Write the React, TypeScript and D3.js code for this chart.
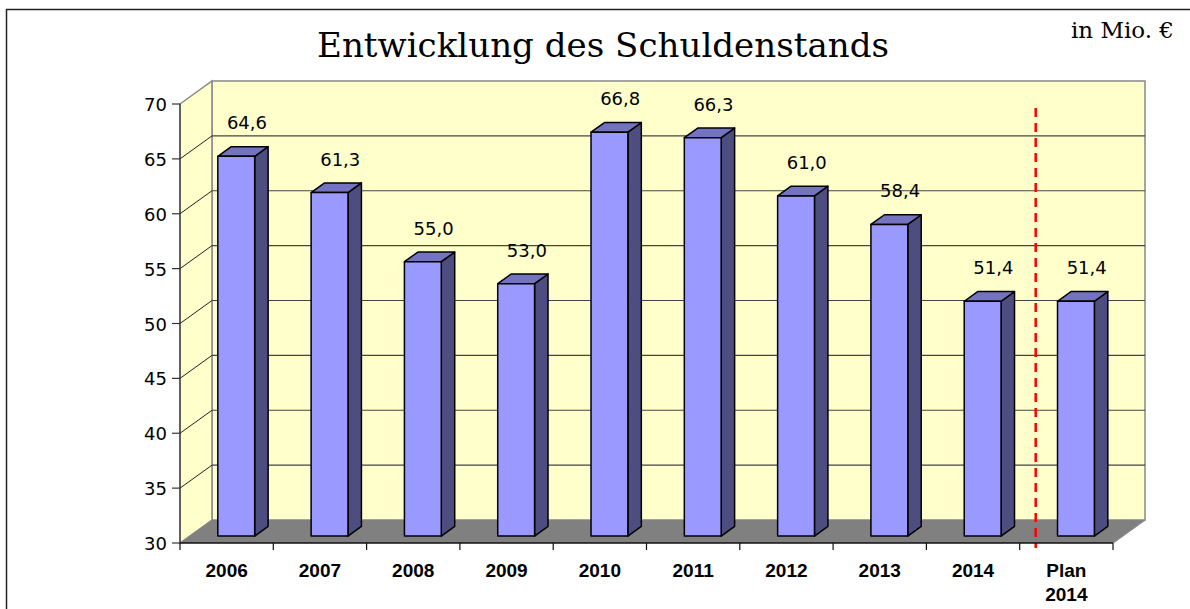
import React from 'react';
import * as d3 from 'd3';

// chart data
const categories = ['2006', '2007', '2008', '2009', '2010', '2011', '2012', '2013', '2014', 'Plan 2014'];
const categoryLines = [['2006'], ['2007'], ['2008'], ['2009'], ['2010'], ['2011'], ['2012'], ['2013'], ['2014'], ['Plan', '2014']];
const values = [64.6, 61.3, 55.0, 53.0, 66.8, 66.3, 61.0, 58.4, 51.4, 51.4];
const yTicks = [30, 35, 40, 45, 50, 55, 60, 65, 70];
const title = 'Entwicklung des Schuldenstands';
const unit = 'in Mio. €';

const W = 1190;
const H = 609;

// 3d depth of the plot box
const DX = 32;
const DY = -23;
const barT0 = 0.3;
const barT1 = 0.72;
const barFrac = 0.395;

const fmt = (v: number) => v.toFixed(1).replace('.', ',');

export default function App() {
  const x = d3.scaleBand<string>().domain(categories).range([180, 1113]).padding(0);
  const y = d3.scaleLinear().domain([30, 70]).range([543, 104]);
  const step = x.step();
  const bw = step * barFrac;
  const [x0, x1] = x.range();
  const [yMin, yMax] = y.domain();

  const pts = (p: number[][]) => p.map((d) => d.join(',')).join(' ');

  // back wall, side wall, floor
  const backWall = pts([
    [x0 + DX, y(yMax) + DY],
    [x1 + DX, y(yMax) + DY],
    [x1 + DX, y(yMin) + DY],
    [x0 + DX, y(yMin) + DY],
  ]);
  const sideWall = pts([
    [x0, y(yMax)],
    [x0 + DX, y(yMax) + DY],
    [x0 + DX, y(yMin) + DY],
    [x0, y(yMin)],
  ]);
  const floor = pts([
    [x0, y(yMin)],
    [x0 + DX, y(yMin) + DY],
    [x1 + DX, y(yMin) + DY],
    [x1, y(yMin)],
  ]);

  const ddx = DX * (barT1 - barT0);
  const ddy = DY * (barT1 - barT0);

  const planX = (x('Plan 2014') as number) + DX * 0.5;

  return (
    <svg width={W} height={H} style={{ position: 'absolute', left: 0, top: 0, background: '#fff' }}>
      {/* outer frame */}
      <rect x={6.5} y={9.5} width={1300} height={700} fill="none" stroke="#222" strokeWidth={1.5} />

      <text
        x={603}
        y={57}
        textAnchor="middle"
        fontFamily="DejaVu Serif"
        fontSize={33}
        textLength={572}
        lengthAdjust="spacingAndGlyphs"
        fill="#000"
      >
        {title}
      </text>
      <text x={1174} y={38} textAnchor="end" fontFamily="DejaVu Serif" fontSize={23} fill="#000">
        {unit}
      </text>

      {/* walls */}
      <polygon points={backWall} fill="#FFFFCC" stroke="#888" strokeWidth={1.5} />
      <polygon points={sideWall} fill="#FFFFCC" stroke="#888" strokeWidth={1.5} />

      {/* gridlines */}
      {yTicks
        .filter((t) => t > yMin && t < yMax)
        .map((t) => (
          <g key={'g' + t}>
            <line x1={x0} y1={y(t)} x2={x0 + DX} y2={y(t) + DY} stroke="#222" strokeWidth={1} />
            <line x1={x0 + DX} y1={y(t) + DY} x2={x1 + DX} y2={y(t) + DY} stroke="#444" strokeWidth={1.2} />
          </g>
        ))}

      <polygon points={floor} fill="#808080" />
      <line x1={x1} y1={y(yMin)} x2={x1 + DX} y2={y(yMin) + DY} stroke="#888" strokeWidth={1.5} />

      {/* bars */}
      {categories.map((c, i) => {
        const v = values[i];
        const fl = (x(c) as number) + (step - bw) / 2 + DX * barT0;
        const fr = fl + bw;
        const fb = y(yMin) + DY * barT0;
        const ft = y(v) + DY * barT0;
        return (
          <g key={c} stroke="#000" strokeWidth={1.5} strokeLinejoin="round">
            <polygon points={pts([[fr, ft], [fr + ddx, ft + ddy], [fr + ddx, fb + ddy], [fr, fb]])} fill="#4D4D80" />
            <polygon points={pts([[fl, ft], [fl + ddx, ft + ddy], [fr + ddx, ft + ddy], [fr, ft]])} fill="#7373BF" />
            <rect x={fl} y={ft} width={bw} height={fb - ft} fill="#9999FF" />
            <text
              x={(fl + fr) / 2 + ddx / 2 + 4}
              y={ft - 27}
              textAnchor="middle"
              fontFamily="DejaVu Sans"
              fontSize={18}
              stroke="none"
              fill="#000"
            >
              {fmt(v)}
            </text>
          </g>
        );
      })}

      {/* plan separator */}
      <line
        x1={planX}
        y1={y(yMax) + 4}
        x2={planX}
        y2={y(yMin) + 5}
        stroke="#FF0000"
        strokeWidth={2.5}
        strokeDasharray="9 6"
      />

      {/* y axis */}
      <line x1={x0} y1={y(yMax)} x2={x0} y2={y(yMin)} stroke="#333" strokeWidth={1.2} />
      {yTicks.map((t) => (
        <g key={'y' + t}>
          <line x1={x0 - 8} y1={y(t)} x2={x0} y2={y(t)} stroke="#333" strokeWidth={1.2} />
          <text x={x0 - 13} y={y(t) + 7} textAnchor="end" fontFamily="DejaVu Sans" fontSize={18} fill="#000">
            {t}
          </text>
        </g>
      ))}

      {/* x axis */}
      <line x1={x0} y1={y(yMin)} x2={x1} y2={y(yMin)} stroke="#111" strokeWidth={1.5} />
      {categories.concat(['end']).map((c, i) => {
        const bx = x0 + i * step;
        return <line key={'t' + i} x1={bx} y1={y(yMin)} x2={bx} y2={y(yMin) + 7} stroke="#111" strokeWidth={1.2} />;
      })}
      {categories.map((c, i) => (
        <text
          key={'l' + c}
          x={(x(c) as number) + step / 2}
          textAnchor="middle"
          fontFamily="Liberation Sans, Arial"
          fontWeight="bold"
          fontSize={19}
          fill="#000"
        >
          {categoryLines[i].map((line, j) => (
            <tspan key={j} x={(x(c) as number) + step / 2} y={577 + j * 24}>
              {line}
            </tspan>
          ))}
        </text>
      ))}
    </svg>
  );
}
